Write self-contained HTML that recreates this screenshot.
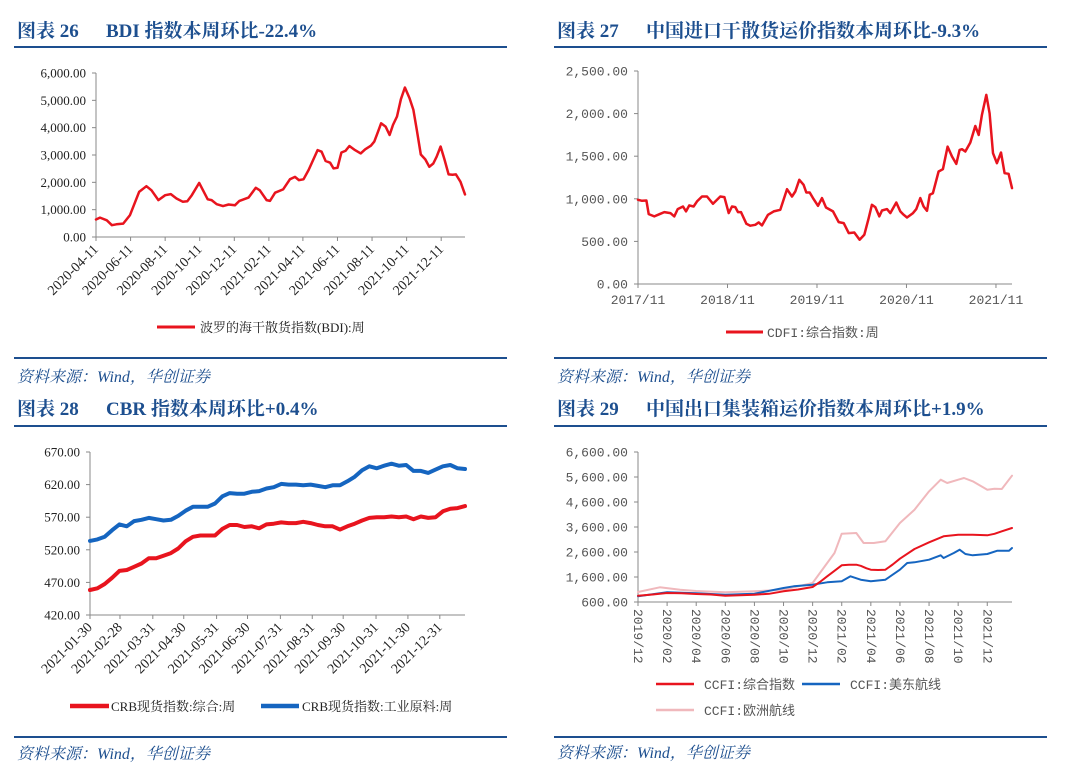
<!DOCTYPE html>
<html><head><meta charset="utf-8"><style>
html,body{margin:0;padding:0;background:#fff;}
svg{display:block;}
.ttl{font-family:"Liberation Serif","Noto Serif CJK SC",serif;font-weight:bold;font-size:19px;fill:#1d4f8f;}
.src{font-family:"Liberation Serif","Noto Serif CJK SC",serif;font-style:italic;font-size:16px;fill:#1d4f8f;}
.serif{font-family:"Liberation Serif","Noto Serif CJK SC",serif;font-size:13px;fill:#222;}
.rot{font-family:"Liberation Serif","Noto Serif CJK SC",serif;font-size:14px;fill:#222;}
.mono{font-family:"Liberation Mono","Noto Sans CJK SC",monospace;font-size:13px;fill:#555;}
</style></head><body>
<svg id="pg" width="1080" height="782" viewBox="0 0 1080 782" xmlns="http://www.w3.org/2000/svg"></svg>
<script>
// ===== BDI data (day offset from 2020-04-11) =====
const bdiDays=[0,7,19,28,36,48,60,76,89,98,110,122,132,142,153,161,169,182,197,204,213,224,234,245,253,269,282,289,301,307,316,330,342,351,358,366,375,391,398,405,413,419,426,433,440,447,457,467,475,485,491,497,503,511,518,524,531,538,545,553,560,566,573,581,588,595,601,608,615,622,629,635,643,651];
const bdiValues=[640,710,610,430,465,490,800,1650,1860,1710,1350,1530,1570,1410,1290,1310,1530,1980,1380,1350,1200,1130,1190,1160,1320,1440,1800,1710,1350,1320,1620,1740,2110,2200,2080,2110,2450,3180,3120,2780,2720,2510,2530,3090,3150,3330,3180,3060,3210,3340,3490,3820,4160,4040,3730,4100,4410,5040,5470,5080,4650,3920,3020,2840,2570,2690,2940,3310,2820,2290,2280,2290,2020,1560];
const bdiTickDays=[0,61,122,183,244,305,365,426,487,548,609];
const bdiTickLabels=["2020-04-11","2020-06-11","2020-08-11","2020-10-11","2020-12-11","2021-02-11","2021-04-11","2021-06-11","2021-08-11","2021-10-11","2021-12-11"];
const bdiYTicks=[0,1000,2000,3000,4000,5000,6000];
// ===== CDFI data (months from 2017/11) =====
const cdfiMonths=[0,0.54,1.12,1.43,2.19,2.99,3.53,4.34,4.87,5.32,6.03,6.44,6.88,7.46,7.91,8.58,9.25,10.06,11.04,11.58,12.16,12.6,13.05,13.41,13.81,14.53,15.06,15.73,16.18,16.63,17.43,18.19,19.08,19.98,20.65,21.09,21.63,22.21,22.57,23.02,23.55,24.13,24.67,25.21,26.15,26.91,27.58,28.25,29.01,29.72,30.35,30.93,31.37,31.82,32.36,32.72,33.39,33.83,34.64,35.17,35.62,36.07,36.87,37.32,37.85,38.3,38.75,39.11,39.55,40.31,40.89,41.52,42.1,42.68,43.13,43.44,43.89,44.56,45.23,45.68,46.12,46.7,47.15,47.6,48.13,48.67,49.16,49.7,50.15];
const cdfiValues=[988,977,980,820,793,824,844,832,793,879,910,852,922,910,969,1027,1027,941,1027,1020,832,910,902,844,844,707,684,695,723,688,812,852,871,1113,1027,1086,1223,1164,1074,1074,996,918,1008,898,852,727,715,598,605,520,578,773,930,902,793,863,879,832,957,852,813,781,832,879,1008,910,859,1047,1066,1320,1348,1613,1496,1410,1574,1582,1555,1660,1855,1750,1984,2219,2004,1535,1418,1543,1301,1293,1125];
const cdfiTickMonths=[0,12,24,36,48];
const cdfiTickLabels=["2017/11","2018/11","2019/11","2020/11","2021/11"];
const cdfiYTicks=[0,500,1000,1500,2000,2500];
// ===== CRB data (weekly, 2021-01-30 onward) =====
const crbBlue=[533.7,536,540,550,559,556,564,566,569,567,565,566,572,580,586,586,586,591,602,607,606,606,609,610,614,616,621,620,620,619,620,618,616,619,619,625,632,642,648,645,649,652,649,650,641,641,638,643,648,650,645,644];
const crbRed=[458.4,461,467.6,477,487.6,489,494,499,507,507,511,515,522,533,540,542,542,542,552,558,558,555,556,553,559,560,562,561,561,563,561,558,556,556,551,556,560,565,569,570,570,571,570,571,567,571,569,570,579,583,584,587];
const crbTickMonths=[0,0.94,1.97,2.94,3.97,4.94,5.97,6.97,7.94,8.97,9.97,10.97];
const crbTickLabels=["2021-01-30","2021-02-28","2021-03-31","2021-04-30","2021-05-31","2021-06-30","2021-07-31","2021-08-31","2021-09-30","2021-10-31","2021-11-30","2021-12-31"];
const crbYTicks=[420,470,520,570,620,670];
// ===== CCFI data (months from 2019/12) =====
const ccfiCompMonths=[0,1,2,3,4,5,6,7,8,9,10,11,12,12.5,13,13.5,14,14.5,15,15.3,15.7,16,16.5,17,17.5,18,19,20,21,22,23,24,24.5,25,25.7];
const ccfiCompValues=[853,900,960,950,920,900,853,870,893,930,1027,1100,1200,1400,1627,1850,2067,2093,2093,2050,1950,1893,1880,1893,2100,2333,2720,2987,3227,3293,3293,3267,3330,3427,3560];
const ccfiUSMonths=[0,2,4,6,8,10,10.7,12,13,14,14.6,15.3,16,17,18,18.5,19,20,20.8,21,21.7,22.1,22.5,23,24,24.7,25.5,25.7];
const ccfiUSValues=[827,987,947,893,933,1160,1227,1293,1387,1427,1627,1493,1427,1493,1893,2160,2187,2293,2467,2360,2560,2693,2520,2467,2520,2653,2653,2760];
const ccfiEUMonths=[0,1.5,2.9,4,6,8,10,12,13,13.5,14,15,15.5,16.2,17,18,19,20,20.35,20.8,21.25,22,22.4,23,24,24.5,25,25.7];
const ccfiEUValues=[1000,1187,1093,1040,987,1027,1093,1360,2160,2560,3333,3360,2960,2960,3027,3760,4293,5027,5227,5493,5360,5493,5560,5427,5093,5133,5120,5653];
const ccfiTickMonths=[0,2,4,6,8,10,12,14,16,18,20,22,24];
const ccfiTickLabels=["2019/12","2020/02","2020/04","2020/06","2020/08","2020/10","2020/12","2021/02","2021/04","2021/06","2021/08","2021/10","2021/12"];
const ccfiYTicks=[600,1600,2600,3600,4600,5600,6600];

const NS="http://www.w3.org/2000/svg";
const pg=document.getElementById('pg');
function mk(tag,attrs,parent){const e=document.createElementNS(NS,tag);for(const k in attrs)e.setAttribute(k,attrs[k]);(parent||pg).appendChild(e);return e;}
function txt(s,attrs,parent){const e=mk('text',attrs,parent);e.textContent=s;return e;}
function lin(d0,d1,r0,r1){return v=>r0+(v-d0)/(d1-d0)*(r1-r0);}
const RED="#e8141e",BLUE="#1565c0",PINK="#f0b8bc",NAVY="#1d4f8f";
function fmt(v){return v.toLocaleString('en-US',{minimumFractionDigits:2,maximumFractionDigits:2});}

function frame(px,title1,title2,tY,lineY,srcLineY,srcY,name){
  const g=mk('g',{});
  
  
  const t=txt(title1,{x:px+17,y:tY,class:'ttl'},g);
  
  
  const t2=txt(title2,{x:px+106,y:tY,class:'ttl'},g);
  
  
  const l1=mk('line',{x1:px+14,x2:px+507,y1:lineY,y2:lineY,stroke:NAVY,'stroke-width':2},g);
  
  
  const l2=mk('line',{x1:px+14,x2:px+507,y1:srcLineY,y2:srcLineY,stroke:NAVY,'stroke-width':2},g);
  
  
  const s=txt('资料来源：Wind，华创证券',{x:px+17,y:srcY,class:'src'},g);
  
  
  return g;
}
function series(g,xs,ys,fx,fy,color,w,name){
  let d='';xs.forEach((x,i)=>{d+=(i?'L':'M')+fx(x).toFixed(1)+','+fy(ys[i]).toFixed(1);});
  const p=mk('path',{d:d,fill:'none',stroke:color,'stroke-width':w,'stroke-linejoin':'round','stroke-linecap':'round'},g);
  
  
}
function axes(g,x0,x1,y0,y1,yTicks,fy,cls,labelX,name){
  const ax=mk('line',{x1:x0,x2:x0,y1:y1,y2:y0,stroke:'#888','stroke-width':1},g);
  
  
  const bx=mk('line',{x1:x0,x2:x1,y1:y0,y2:y0,stroke:'#888','stroke-width':1},g);
  
  
  yTicks.forEach(v=>{
    const y=fy(v);
    mk('line',{x1:x0-4,x2:x0,y1:y,y2:y,stroke:'#888'},g);
    const t=txt(fmt(v),{x:labelX,y:y+4.5,'text-anchor':'end',class:cls},g);
    
    
  });
}

// ---- Panel 1: BDI ----
(function(){
  const g=frame(0,'图表 26','BDI 指数本周环比-22.4%',37,47,358,382,'bdi');
  const fx=lin(0,651,96,465), fy=lin(0,6000,237,73);
  axes(g,96,465,237,73,bdiYTicks,fy,'serif',86,'bdi');
  bdiTickDays.forEach((d,i)=>{
    const x=fx(d);
    mk('line',{x1:x,x2:x,y1:237,y2:241,stroke:'#888'},g);
    const t=txt(bdiTickLabels[i],{x:x+3,y:250,'text-anchor':'end',class:'rot',transform:`rotate(-45 ${x+3} 250)`},g);
    
    
  });
  series(g,bdiDays,bdiValues,fx,fy,RED,2.5,'bdi-line');
  const ll=mk('line',{x1:157,x2:195,y1:327,y2:327,stroke:RED,'stroke-width':3},g);
  
  
  const lt=txt('波罗的海干散货指数(BDI):周',{x:200,y:332,class:'serif'},g);
  
  
})();

// ---- Panel 2: CDFI ----
(function(){
  const g=frame(540,'图表 27','中国进口干散货运价指数本周环比-9.3%',37,47,358,382,'cdfi');
  const fx=lin(0,50.15,638,1012), fy=lin(0,2500,284,71);
  axes(g,638,1012,284,71,cdfiYTicks,fy,'mono',628,'cdfi');
  cdfiTickMonths.forEach((m,i)=>{
    const x=fx(m);
    mk('line',{x1:x,x2:x,y1:284,y2:288,stroke:'#888'},g);
    const t=txt(cdfiTickLabels[i],{x:x,y:304,'text-anchor':'middle',class:'mono'},g);
    
    
  });
  series(g,cdfiMonths,cdfiValues,fx,fy,RED,2.5,'cdfi-line');
  const ll=mk('line',{x1:726,x2:763,y1:332,y2:332,stroke:RED,'stroke-width':3},g);
  
  
  const lt=txt('CDFI:综合指数:周',{x:767,y:337,class:'mono'},g);
  
  
})();

// ---- Panel 3: CRB ----
(function(){
  const g=frame(0,'图表 28','CBR 指数本周环比+0.4%',415,426,737,759,'crb');
  const n=crbBlue.length;
  const fxw=lin(0,n-1,90,465), fxm=lin(0,11.76,90,465), fy=lin(420,670,615,452);
  axes(g,90,465,615,452,crbYTicks,fy,'serif',80,'crb');
  crbTickMonths.forEach((m,i)=>{
    const x=fxm(m);
    mk('line',{x1:x,x2:x,y1:615,y2:619,stroke:'#888'},g);
    const t=txt(crbTickLabels[i],{x:x+3,y:628,'text-anchor':'end',class:'rot',transform:`rotate(-45 ${x+3} 628)`},g);
    
    
  });
  const idx=crbBlue.map((_,i)=>i);
  series(g,idx,crbBlue,fxw,fy,BLUE,4,'crb-industrial-line');
  series(g,idx,crbRed,fxw,fy,RED,4,'crb-composite-line');
  const a=mk('line',{x1:70,x2:109,y1:706,y2:706,stroke:RED,'stroke-width':4.5},g);
  
  
  const at=txt('CRB现货指数:综合:周',{x:111,y:711,class:'serif'},g);
  
  
  const b=mk('line',{x1:261,x2:299,y1:706,y2:706,stroke:BLUE,'stroke-width':4.5},g);
  
  
  const bt=txt('CRB现货指数:工业原料:周',{x:302,y:711,class:'serif'},g);
  
  
})();

// ---- Panel 4: CCFI ----
(function(){
  const g=frame(540,'图表 29','中国出口集装箱运价指数本周环比+1.9%',415,426,737,758,'ccfi');
  const fx=lin(0,25.7,638,1012), fy=lin(600,6600,602,452);
  axes(g,638,1012,602,452,ccfiYTicks,fy,'mono',628,'ccfi');
  ccfiTickMonths.forEach((m,i)=>{
    const x=fx(m);
    mk('line',{x1:x,x2:x,y1:602,y2:606,stroke:'#888'},g);
    const t=txt(ccfiTickLabels[i],{x:x-4,y:609,class:'mono',transform:`rotate(90 ${x-4} 609)`},g);
    
    
  });
  series(g,ccfiEUMonths,ccfiEUValues,fx,fy,PINK,2,'ccfi-europe-line');
  series(g,ccfiUSMonths,ccfiUSValues,fx,fy,BLUE,2,'ccfi-us-east-line');
  series(g,ccfiCompMonths,ccfiCompValues,fx,fy,RED,2,'ccfi-composite-line');
  const items=[[656,694,684,704,RED,'CCFI:综合指数','composite'],[802,840,684,850,BLUE,'CCFI:美东航线','us-east'],[656,694,710,704,PINK,'CCFI:欧洲航线','europe']];
  items.forEach(it=>{
    const l=mk('line',{x1:it[0],x2:it[1],y1:it[2],y2:it[2],stroke:it[4],'stroke-width':2.5},g);
    
    
    const t=txt(it[5],{x:it[3],y:it[2]+5,class:'mono'},g);
    
    
  });
})();
</script>
</body></html>
